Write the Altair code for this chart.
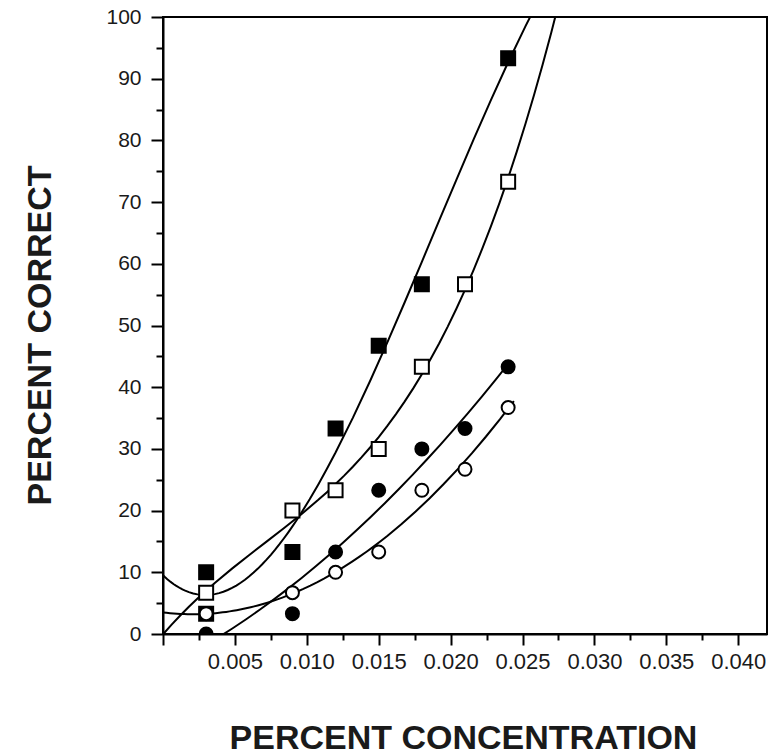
import altair as alt
import pandas as pd

# Concentrations tested (percent) and percent-correct scores per condition.
# The filled-square condition has two scores at the lowest concentration.
fs_conc = [0.003, 0.003, 0.009, 0.012, 0.015, 0.018, 0.024]
filled_square = [10.0, 3.3, 13.3, 33.3, 46.7, 56.7, 93.3]

conc = [0.003, 0.009, 0.012, 0.015, 0.018, 0.021, 0.024]
open_square = [6.7, 20.0, 23.3, 30.0, 43.3, 56.7, 73.3]
filled_circle = [0.0, 3.3, 13.3, 23.3, 30.0, 33.3, 43.3]
open_circle = [3.3, 6.7, 10.0, 13.3, 23.3, 26.7, 36.7]

x_ticks = [i * 0.0025 for i in range(17)]
y_ticks = list(range(0, 101, 5))

FONT = "Liberation Sans"
INK = "#1a1a1a"


def frame(xs, values):
    return pd.DataFrame({"x": xs, "y": values})


x_enc = alt.X(
    "x:Q",
    scale=alt.Scale(domain=[0, 0.042], nice=False, zero=False),
    axis=alt.Axis(
        title="PERCENT CONCENTRATION",
        values=x_ticks,
        labelExpr="(round(datum.value*400) % 2 == 0 && datum.value > 0) ? format(datum.value, '.3f') : ''",
        labelOverlap=False,
        labelFontSize=22,
        labelPadding=6,
        tickSize={"condition": {"test": "round(datum.value*400) % 2 == 0", "value": 11}, "value": 6},
        titleX=300,
        titleY=114,
        titleBaseline="alphabetic",
        titleAlign="center",
    ),
)
y_enc = alt.Y(
    "y:Q",
    scale=alt.Scale(domain=[0, 100], nice=False),
    axis=alt.Axis(
        title="PERCENT CORRECT",
        values=y_ticks,
        labelExpr="datum.value % 10 == 0 ? datum.value : ''",
        labelOverlap=False,
        labelFontSize=21,
        labelPadding=10,
        tickSize={"condition": {"test": "datum.value % 10 == 0", "value": 12}, "value": 7},
        titleX=-123,
        titleY=318,
        titleAngle=-90,
        titleBaseline="middle",
        titleAlign="center",
    ),
)

# (x values, y values, marker shape, filled?, polynomial order, fit extent)
series = [
    (fs_conc, filled_square, "square", True, 3, [0, 0.03]),
    (conc, open_square, "square", False, 3, [0, 0.03]),
    (conc, filled_circle, "circle", True, 2, [0, 0.0241]),
    (conc, open_circle, "circle", False, 2, [0, 0.0244]),
]

fits = []
marks = []
for xs, values, shape, filled, order, extent in series:
    base = alt.Chart(frame(xs, values))
    fits.append(
        base.transform_regression("x", "y", method="poly", order=order, extent=extent)
        .mark_line(color="black", strokeWidth=2, clip=True)
        .encode(x=x_enc, y=y_enc)
    )
    size = 196 if shape == "square" else 169
    marks.append(
        base.mark_point(
            shape=shape,
            size=size,
            filled=True,
            fill="black" if filled else "white",
            stroke="black",
            strokeWidth=2,
            opacity=1,
            clip=True,
        ).encode(x=x_enc, y=y_enc)
    )

chart = (
    alt.layer(*fits, *marks)
    .properties(
        width=604,
        height=617,
        autosize=alt.AutoSizeParams(type="none"),
        padding={"left": 163, "top": 17, "right": 12, "bottom": 122},
        background="white",
    )
    .configure_view(stroke="black", strokeWidth=2)
    .configure_axis(
        domainColor="black",
        domainWidth=2,
        tickColor="black",
        tickWidth=2,
        grid=False,
        labelFont=FONT,
        labelColor=INK,
        titleFont=FONT,
        titleFontSize=34,
        titleFontWeight="bold",
        titleColor=INK,
    )
)

chart.save("out.html", embed_options={"renderer": "svg", "actions": False})
